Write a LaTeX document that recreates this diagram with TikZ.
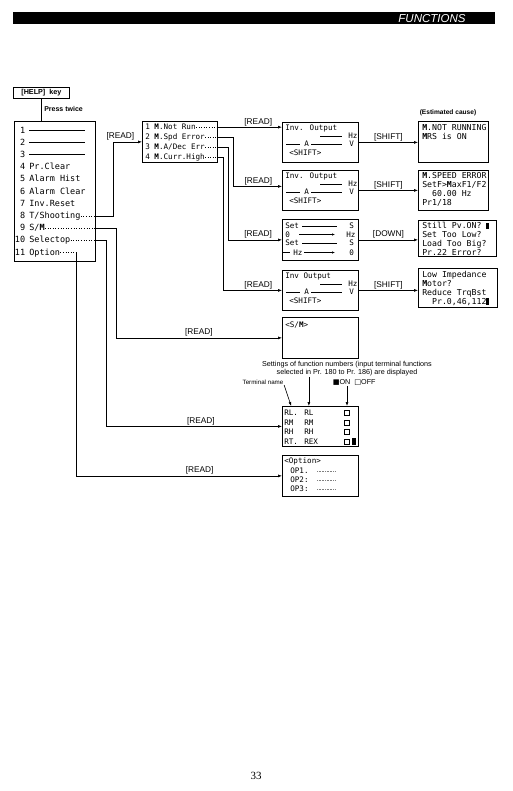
\documentclass[tikz,border=0pt]{standalone}
\usepackage{fontspec}
\setmainfont{Liberation Sans}
\newfontfamily\lcdface{DejaVu Sans Mono}
\newfontfamily\symface{DejaVu Sans}
\newfontfamily\pageface{Liberation Serif}
\usetikzlibrary{arrows.meta,positioning,calc}

\newcommand{\lcdbig}{\lcdface\fontsize{8.5}{10}\selectfont}
\newcommand{\lcdmid}{\lcdface\fontsize{8.2}{8.9}\selectfont}
\newcommand{\lcdsmall}{\lcdface\fontsize{7.6}{9}\selectfont}
\newcommand{\keyfont}{\fontsize{8.3}{10}\selectfont}
\newcommand{\mk}{\textbf{M}}
\newcommand{\blk}{\rule[-0.6pt]{3pt}{6.6pt}}

% output monitor panel, drawn inside a display box
\newcommand{\invpanel}[2]{%
  \begin{scope}[shift={(#1.north west)}]
    \node[row,font=\lcdsmall] (#1-l1) at (3,8.7) {#2};
    \node[row,font=\lcdsmall] (#1-hz) at (66,16.7) {Hz};
    \node[row,font=\lcdsmall] (#1-a) at (22,24.7) {A};
    \node[row,font=\lcdsmall] (#1-v) at (67,24.7) {V};
    \node[row,font=\lcdsmall] (#1-sh) at (7,33.7) {<SHIFT>};
    \draw (38,14) -- (60,14);
    \draw (4,22) -- (18,22);
    \draw (29,22) -- (60,22);
  \end{scope}}

\begin{document}
\begin{tikzpicture}[x=1pt,y=-1pt,line width=0.6pt,
  lcd/.style={draw,line width=0.8pt,inner sep=0pt,anchor=north west},
  row/.style={inner sep=0pt,anchor=base west},
  key/.style={font=\keyfont,inner sep=1pt},
  arr/.style={-{Latex[length=4pt,width=3pt]}},
  tip/.style={-{Latex[length=3pt,width=2.4pt]}}]
\useasboundingbox (0,0) rectangle (513,791);

% title bar
\fill (13,12) rectangle (495,24);
\node[text=white,inner sep=0pt,font=\itshape\fontsize{11.5}{12}\selectfont] (title) at (432,18.3) {FUNCTIONS};

% help key
\node[lcd,minimum width=56pt,minimum height=11pt,font=\bfseries\fontsize{7.2}{9}\selectfont] (help) at (13,87) {[HELP]\hspace{4pt}key};
\node[anchor=west,inner sep=0pt,font=\bfseries\fontsize{7}{8}\selectfont] (press) at (44,109) {Press twice};

% help menu
\node[lcd,minimum width=81pt,minimum height=140pt] (menu) at (14,121) {};
\draw (help.south) -- (help.south |- menu.north);
\foreach \i/\t in {1/{},2/{},3/{},4/{Pr.Clear},5/{Alarm Hist},6/{Alarm Clear},7/{Inv.Reset},8/{T/Shooting},9/{S/\mk},10/{Selectop},11/{Option}}{
  \node[row,anchor=base east,font=\lcdbig] (n\i) at (25.5,{120.9+12.2*\i}) {\i};
  \node[row,font=\lcdbig] (m\i) at (29,{120.9+12.2*\i}) {\t};
}
\foreach \i in {1,2,3}
  \draw[line width=1pt] ([yshift=3pt]m\i.base west) -- ++(56,0);

% trouble list
\node[lcd,minimum width=75pt,minimum height=41pt] (sub) at (142,121) {};
\foreach \i/\t in {1/{1 \mk.Not Run},2/{2 \mk.Spd Error},3/{3 \mk.A/Dec Err},4/{4 \mk.Curr.High}}{
  \node[row,font=\lcdsmall] (s\i) at (145,{119.8+10*\i}) {\t};
  \draw[dotted] (s\i.mid east) -- (s\i.mid east -| sub.east);
}

% display boxes
\node[lcd,minimum width=76pt,minimum height=40pt] (outA) at (282,122) {};
\node[lcd,minimum width=76pt,minimum height=40pt] (outB) at (282,170) {};
\node[lcd,minimum width=76pt,minimum height=41pt] (setC) at (282,219) {};
\node[lcd,minimum width=76pt,minimum height=40pt] (outD) at (282,270) {};
\node[lcd,minimum width=76pt,minimum height=41pt] (sm) at (282,317) {};
\node[lcd,minimum width=76pt,minimum height=40pt] (rl) at (282,406) {};
\node[lcd,minimum width=76pt,minimum height=41pt] (opt) at (282,455) {};
\invpanel{outA}{Inv. Output}
\invpanel{outB}{Inv. Output}
\invpanel{outD}{Inv Output}

% set frequency panel
\begin{scope}[shift={(setC.north west)}]
  \node[row,font=\lcdsmall] (c-s1) at (3,9.7) {Set};
  \node[row,font=\lcdsmall] (c-e1) at (67,9.7) {S};
  \node[row,font=\lcdsmall] (c-z1) at (3,18.2) {0};
  \node[row,font=\lcdsmall] (c-h1) at (64,18.2) {Hz};
  \node[row,font=\lcdsmall] (c-s2) at (3,26.7) {Set};
  \node[row,font=\lcdsmall] (c-e2) at (67,26.7) {S};
  \node[row,font=\lcdsmall] (c-h2) at (11,36.2) {Hz};
  \node[row,font=\lcdsmall] (c-z2) at (67,36.2) {0};
  \draw (20,7) -- (55,7);
  \draw[tip] (17,15.5) -- (53,15.5);
  \draw (20,24) -- (55,24);
  \draw (1,33.5) -- (8,33.5);
  \draw[tip] (22,33.5) -- (53,33.5);
\end{scope}

% estimated causes
\node[font=\bfseries\fontsize{6.6}{8}\selectfont,inner sep=0pt] (est) at (448,113) {(Estimated cause)};
\node[lcd,minimum width=70pt,minimum height=41pt] (causeE) at (418,121) {};
\node[lcd,minimum width=70pt,minimum height=40pt] (causeF) at (418,170) {};
\node[lcd,minimum width=78pt,minimum height=36pt] (causeG) at (418,220) {};
\node[lcd,minimum width=79pt,minimum height=39pt] (causeH) at (418,268) {};
\node[inner sep=0pt,anchor=north west,align=left,font=\lcdmid] (tE) at (422,124) {\mk.NOT RUNNING\\\mk RS is ON};
\node[inner sep=0pt,anchor=north west,align=left,font=\lcdmid] (tF) at (422,172) {\mk.SPEED ERROR\\SetF>\mk axF1/F2\\\phantom{00}60.00 Hz\\Pr1/18};
\node[inner sep=0pt,anchor=north west,align=left,font=\lcdmid] (tG) at (422,222) {Still Pv.ON? \blk\\Set Too Low?\\Load Too Big?\\Pr.22 Error?};
\node[inner sep=0pt,anchor=north west,align=left,font=\lcdmid] (tH) at (422,271) {Low Impedance\\\mk otor?\\Reduce TrqBst\\\phantom{00}Pr.0,46,112\blk};

% S/M monitor
\node[row,font=\lcdsmall] (smt) at (285,327.7) {<S/\mk>};
\node[font=\fontsize{7.2}{8.2}\selectfont,align=center,inner sep=0pt] (note) at (347,369) {Settings of function numbers (input terminal functions\\selected in Pr. 180 to Pr. 186) are displayed};
\node[font=\fontsize{6.2}{7}\selectfont,inner sep=0.5pt] (tname) at (263,382) {Terminal name};
\node[anchor=west,font=\fontsize{7.2}{8}\selectfont,inner sep=0.5pt] (onoff) at (332,382) {{\symface ■}ON\hspace{4pt}{\symface □}OFF};

% terminal list
\foreach \a/\b [count=\k] in {RL./RL,RM/RM,RH/RH,RT./REX}{
  \node[row,font=\lcdsmall] (ra\k) at (284,{415.7+9.6*(\k-1)}) {\a};
  \node[row,font=\lcdsmall] (rb\k) at (304,{415.7+9.6*(\k-1)}) {\b};
  \node[draw,line width=0.5pt,minimum size=5pt,inner sep=0pt] (sq\k) at (347,{413+9.6*(\k-1)}) {};
}
\fill (352,438) rectangle (355.5,445);
\draw[arr] (tname.south east) -- (rl.north -| ra1);
\draw[arr] (note.south -| rb1) -- (rl.north -| rb1);
\draw[arr] (onoff.south -| sq1) -- (rl.north -| sq1);

% option list
\node[row,font=\lcdsmall] (o0) at (284,463.7) {<Option>};
\foreach \t/\k in {OP1./1,OP2:/2,OP3:/3}{
  \node[row,font=\lcdsmall] (o\k) at (290,{473.7+9*(\k-1)}) {\t};
  \draw[densely dotted,gray] (317,{471+9*(\k-1)}) -- (336,{471+9*(\k-1)});
}

% menu connectors
\draw[dotted] (m8.mid east) -- (m8.mid east -| menu.east);
\draw[arr] (m8.mid east -| menu.east) -- ++(17,0) |- node[key,above,pos=0.63]{[READ]} (sub.west);
\draw[dotted] (m9.mid east) -- (m9.mid east -| menu.east);
\draw[arr] (m9.mid east -| menu.east) -- ++(20,0) |- node[key,above,pos=0.75]{[READ]} (sm.west);
\draw[dotted] (m10.mid east) -- (m10.mid east -| menu.east);
\draw[arr] (m10.mid east -| menu.east) -- ++(10,0) |- node[key,above,pos=0.77]{[READ]} (rl.west);
\coordinate (k11) at (76,0);
\draw[dotted] (m11.mid east) -- (m11.mid east -| k11);
\draw[arr] (m11.mid east -| k11) |- node[key,above,pos=0.8]{[READ]} (opt.west);

% trouble connectors
\draw[arr] (s1.mid east -| sub.east) -- node[key,above,pos=0.63]{[READ]} (s1.mid east -| outA.west);
\draw[arr] (s2.mid east -| sub.east) -- ++(15,0) |- node[key,above,pos=0.76]{[READ]} ([yshift=4pt]outB.west);
\draw[arr] (s3.mid east -| sub.east) -- ++(10,0) |- node[key,above,pos=0.78]{[READ]} (setC.west);
\draw[arr] (s4.mid east -| sub.east) -- ++(5,0) |- node[key,above,pos=0.8]{[READ]} (outD.west);

% cause connectors
\draw[arr] (outA.east) -- node[key,above]{[SHIFT]} (outA.east -| causeE.west);
\draw[arr] (outB.east) -- node[key,above]{[SHIFT]} (outB.east -| causeF.west);
\draw[arr] (setC.east) -- node[key,above]{[DOWN]} (setC.east -| causeG.west);
\draw[arr] (outD.east) -- node[key,above]{[SHIFT]} (outD.east -| causeH.west);

% page number
\node[font=\pageface\fontsize{11}{12}\selectfont,inner sep=0pt] (pg) at (256,776) {33};
\end{tikzpicture}
\end{document}
